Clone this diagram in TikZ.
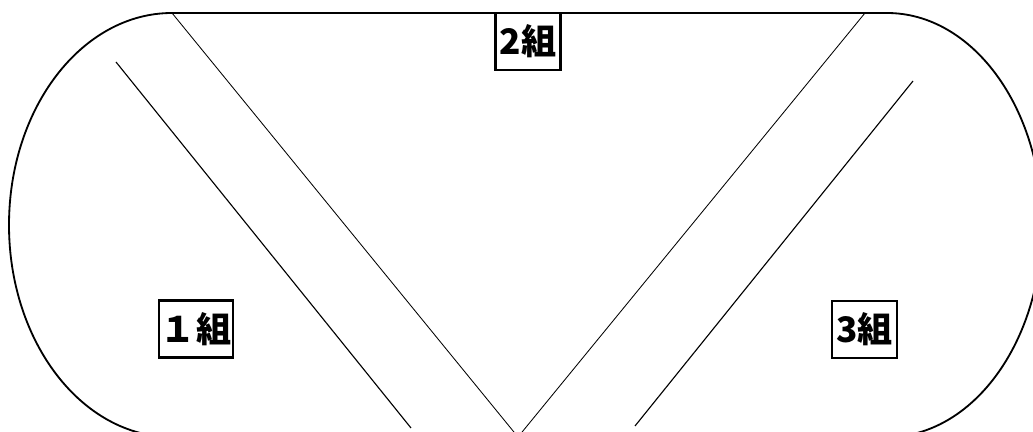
\documentclass[tikz,border=0pt]{standalone}
\usepackage{fontspec}
\newfontfamily\jpfont{Noto Sans CJK JP}
\usetikzlibrary{positioning, calc}

\begin{document}
\begin{tikzpicture}[
  every node/.style={font=\jpfont\bfseries\fontsize{25}{27}\selectfont},
  court/.style={draw=black, line width=1.3pt},
  split/.style={draw=black, line width=0.6pt},
  lane/.style={draw=black, line width=0.8pt},
  group/.style={draw=black, fill=white, line width=1.5pt, minimum width=1.625cm, minimum height=1.425cm, inner sep=1pt}
]

  \useasboundingbox (0,0) rectangle (25.825,10.8);
  \clip (0,0) rectangle (25.825,10.8);

  % Umriss
  \draw[court] (4.3,-0.125) arc[start angle=270, end angle=90, x radius=4.075, y radius=5.3]
    -- (22.175,10.475) arc[start angle=90, end angle=-90, x radius=3.875, y radius=5.3] -- cycle;

  % Punkte
  \coordinate (tl) at (4.3, 10.475);
  \coordinate (tr) at (21.625, 10.475);
  \coordinate (v) at (12.95, -0.125);
  \coordinate (la) at (2.9, 9.25);
  \coordinate (lb) at (10.275, 0.1);
  \coordinate (ra) at (22.825, 8.775);
  \coordinate (rb) at (15.875, 0.15);

  \draw[split] (tl) -- (v);
  \draw[split] (tr) -- (v);
  \draw[lane] (la) -- (lb);
  \draw[lane] (ra) -- (rb);

  % Gruppen
  \node[group] (g2) at (13.2, 9.7625) {2組};
  \node[group, minimum width=1.85cm] (g1) at (4.9, 2.575) {１組};
  \node[group] (g3) at (21.6125, 2.5625) {3組};

\end{tikzpicture}
\end{document}
